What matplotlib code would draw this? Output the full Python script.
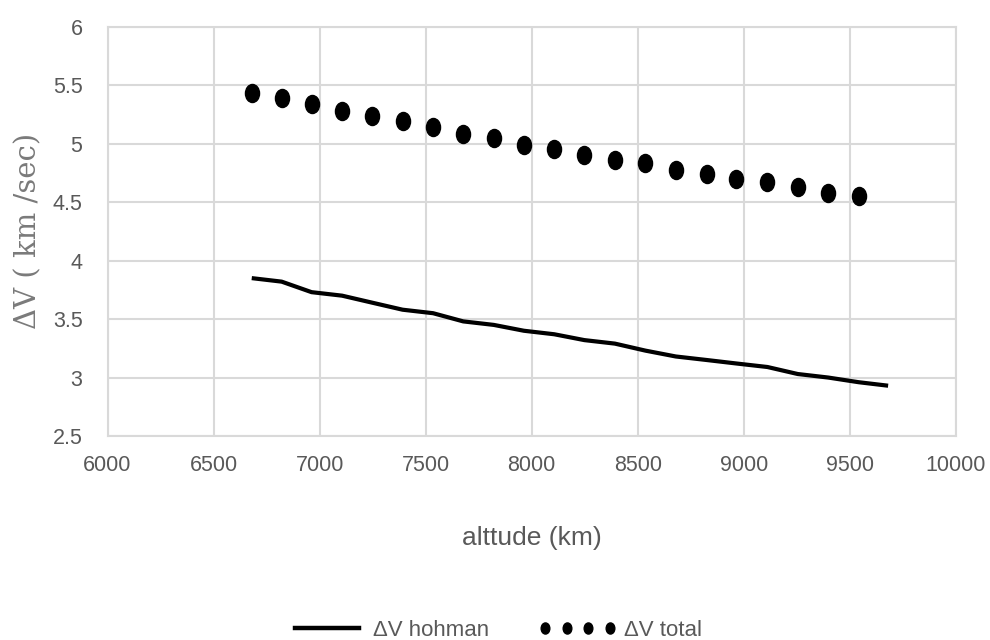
import matplotlib
matplotlib.use("Agg")
import matplotlib.pyplot as plt
from matplotlib.path import Path
from matplotlib.transforms import Affine2D
from matplotlib.lines import Line2D
import numpy as np

# ---- data ----
altitude = [6680, 6821, 6962, 7106, 7248, 7391, 7535, 7677, 7821, 7963, 8106,
            8248, 8392, 8536, 8679, 8824, 8965, 9111, 9254, 9397, 9541, 9680]
dv_hohman = [3.85, 3.82, 3.73, 3.70, 3.64, 3.58, 3.55, 3.48, 3.45, 3.40, 3.37,
             3.32, 3.29, 3.23, 3.18, 3.15, 3.12, 3.09, 3.03, 3.00, 2.96, 2.93]
altitude_total = altitude[:21]
dv_total = [5.43, 5.39, 5.34, 5.28, 5.24, 5.19, 5.14, 5.08, 5.05, 4.99, 4.95,
            4.90, 4.86, 4.835, 4.775, 4.74, 4.70, 4.67, 4.63, 4.58, 4.55]
x_ticks = [6000, 6500, 7000, 7500, 8000, 8500, 9000, 9500, 10000]
y_ticks = [2.5, 3, 3.5, 4, 4.5, 5, 5.5, 6]
x_label = "alttude (km)"
y_label = "ΔV ( km /sec)"
series_names = ["ΔV hohman", "ΔV total"]

W, H = 990, 640
fig = plt.figure(figsize=(W / 100, H / 100), dpi=100)
left, right, top, bottom = 107.5, 956, 26.7, 436
ax = fig.add_axes([left / W, 1 - bottom / H, (right - left) / W, (bottom - top) / H])

grid_c = "#d9d9d9"
text_c = "#595959"
sans = ["Liberation Sans", "DejaVu Sans"]

ellipse = Path.unit_circle().transformed(Affine2D().scale(0.78, 1.0))

ax.plot(altitude, dv_hohman, color="black", lw=3.0, solid_capstyle="butt",
        solid_joinstyle="round", zorder=3)
ax.plot(altitude_total, dv_total, linestyle="none", marker=ellipse,
        markersize=13, color="black", zorder=3)

ax.set_xlim(6000, 10000)
ax.set_ylim(2.5, 6)
ax.set_xticks(x_ticks)
ax.set_yticks(y_ticks)
ax.set_xticklabels([str(v) for v in x_ticks])
ax.set_yticklabels([f"{v:g}" for v in y_ticks])
ax.grid(True, color=grid_c, lw=1.5, zorder=0)
ax.set_axisbelow(True)
for s in ax.spines.values():
    s.set_color(grid_c)
    s.set_linewidth(1.5)
ax.tick_params(axis="both", length=0, colors=text_c, labelsize=15.5)
ax.tick_params(axis="y", pad=18)
ax.tick_params(axis="x", pad=14)
for lab in ax.get_xticklabels() + ax.get_yticklabels():
    lab.set_family(sans)

ax.set_xlabel(x_label, fontsize=19, color=text_c, family=sans)
ax.xaxis.label.set_va("center")
ax.xaxis.set_label_coords(0.5, (bottom - 538) / (bottom - top))
ax.set_ylabel(y_label, fontsize=21, color="#7a7a7a", family=["DejaVu Serif"])
ax.yaxis.label.set_va("center")
ax.yaxis.set_label_coords((28 - left) / (right - left), 0.5)

h1 = Line2D([], [], color="black", lw=3.2)
h2 = Line2D([], [], linestyle="none", marker=ellipse, markersize=8, color="black")
leg = fig.legend([h1, h2], series_names, loc="center", bbox_to_anchor=(0.5, 1 - 630 / H),
                 ncol=2, frameon=False, numpoints=4, handlelength=3.5,
                 handletextpad=0.35, columnspacing=2.2,
                 prop={"family": sans, "size": 16})
for t in leg.get_texts():
    t.set_color(text_c)

fig.savefig("out.png", dpi=100, facecolor="white")
